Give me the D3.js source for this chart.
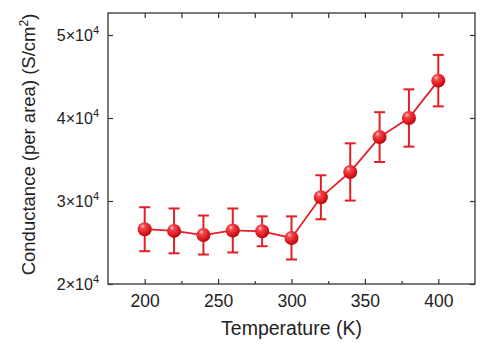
<!DOCTYPE html>
<html>
<head>
<meta charset="utf-8">
<script src="https://cdn.jsdelivr.net/npm/d3@7"></script>
<style>
  body { margin: 0; background: #fff; }
  text { font-family: "Liberation Sans", Arial, sans-serif; fill: #222; }
</style>
</head>
<body>
<div id="chart"></div>
<script>
// temperature (K)
const temps = [200, 220, 240, 260, 280, 300, 320, 340, 360, 380, 400];
// conductance per area (S/cm2)
const conductance = [26600, 26400, 25900, 26450, 26350, 25550, 30450, 33500, 37700, 40000, 44500];
// error bar half-height
const errors = [2650, 2700, 2350, 2650, 1800, 2600, 2650, 3450, 3000, 3450, 3100];
const xTicks = [200, 250, 300, 350, 400];
const xMinorTicks = [225, 275, 325, 375];
const yTicks = [20000, 30000, 40000, 50000];
const yLabelMantissa = ["2", "3", "4", "5"];

const margin = {top: 13, right: 25, bottom: 68, left: 108};
const width = 500 - margin.left - margin.right;
const height = 352 - margin.top - margin.bottom;
const red = "#e21f26";

const svg = d3.select("#chart").append("svg")
  .attr("width", 500)
  .attr("height", 352);

const defs = svg.append("defs");
const grad = defs.append("radialGradient")
  .attr("id", "ball")
  .attr("cx", "40%").attr("cy", "35%").attr("r", "65%")
  .attr("fx", "35%").attr("fy", "28%");
grad.append("stop").attr("offset", "0%").attr("stop-color", "#ffd6d6");
grad.append("stop").attr("offset", "25%").attr("stop-color", "#f24a4f");
grad.append("stop").attr("offset", "75%").attr("stop-color", "#e0141c");
grad.append("stop").attr("offset", "100%").attr("stop-color", "#a80c12");

const g = svg.append("g")
  .attr("transform", "translate(" + margin.left + "," + margin.top + ")");

const x = d3.scaleLinear().domain([175, 425]).range([0, width]);
const y = d3.scaleLinear().domain([20000, 52650]).range([height, 0]);

const axisColor = "#333";

// frame
g.append("rect")
  .attr("width", width).attr("height", height)
  .attr("fill", "none").attr("stroke", axisColor).attr("stroke-width", 1.3);

// bottom axis
const xAxis = d3.axisBottom(x).tickValues(xTicks).tickSize(-5).tickPadding(11).tickFormat(d3.format("d"));
const xg = g.append("g").attr("transform", "translate(0," + height + ")").call(xAxis);
xg.select(".domain").remove();
xg.selectAll("text").attr("font-size", 17.5).attr("fill", "#222");

g.append("g").attr("transform", "translate(0," + height + ")")
  .call(d3.axisBottom(x).tickValues(xMinorTicks).tickSize(-3).tickFormat(""))
  .select(".domain").remove();

// top axis
const tg = g.append("g").call(d3.axisTop(x).tickValues(xTicks).tickSize(-5).tickFormat(""));
tg.select(".domain").remove();
g.append("g").call(d3.axisTop(x).tickValues(xMinorTicks).tickSize(-5).tickFormat(""))
  .select(".domain").remove();

// left axis
const yg = g.append("g").call(d3.axisLeft(y).tickValues(yTicks).tickSize(-5).tickFormat(""));
yg.select(".domain").remove();

// right axis
const rg = g.append("g").attr("transform", "translate(" + width + ",0)")
  .call(d3.axisRight(y).tickValues(yTicks).tickSize(-5).tickFormat(""));
rg.select(".domain").remove();

g.selectAll(".tick line").attr("stroke", axisColor).attr("stroke-width", 1.2);

// y tick labels with superscript
const yl = g.append("g").selectAll("text").data(yTicks).join("text")
  .attr("x", -9)
  .attr("y", d => y(d) + 6)
  .attr("text-anchor", "end")
  .attr("font-size", 16);
yl.append("tspan").text((d, i) => yLabelMantissa[i] + "\u00d710");
yl.append("tspan").attr("dy", -7).attr("font-size", 11).text("4");

// axis titles
svg.append("text")
  .attr("x", margin.left + x(300) + 0)
  .attr("y", 335)
  .attr("text-anchor", "middle")
  .attr("font-size", 19.5)
  .text("Temperature (K)");

const yt = svg.append("text")
  .attr("transform", "translate(35," + (margin.top + height / 2 - 4) + ") rotate(-90)")
  .attr("text-anchor", "middle")
  .attr("font-size", 18.5);
yt.append("tspan").text("Conductance (per area) (S/cm");
yt.append("tspan").attr("dy", -7).attr("font-size", 12).text("2");
yt.append("tspan").attr("dy", 7).text(")");

const data = temps.map((t, i) => ({t: t, v: conductance[i], e: errors[i]}));

// line
g.append("path")
  .datum(data)
  .attr("fill", "none")
  .attr("stroke", red)
  .attr("stroke-width", 1.8)
  .attr("d", d3.line().x(d => x(d.t)).y(d => y(d.v)));

// error bars
const eb = g.append("g").selectAll("g").data(data).join("g")
  .attr("stroke", red).attr("stroke-width", 2);
eb.append("line")
  .attr("x1", d => x(d.t)).attr("x2", d => x(d.t))
  .attr("y1", d => y(d.v - d.e)).attr("y2", d => y(d.v + d.e));
eb.append("line")
  .attr("x1", d => x(d.t) - 5.5).attr("x2", d => x(d.t) + 5.5)
  .attr("y1", d => y(d.v + d.e)).attr("y2", d => y(d.v + d.e));
eb.append("line")
  .attr("x1", d => x(d.t) - 5.5).attr("x2", d => x(d.t) + 5.5)
  .attr("y1", d => y(d.v - d.e)).attr("y2", d => y(d.v - d.e));

// markers
g.append("g").selectAll("circle").data(data).join("circle")
  .attr("cx", d => x(d.t))
  .attr("cy", d => y(d.v))
  .attr("r", 7)
  .attr("fill", "url(#ball)");
</script>
</body>
</html>
